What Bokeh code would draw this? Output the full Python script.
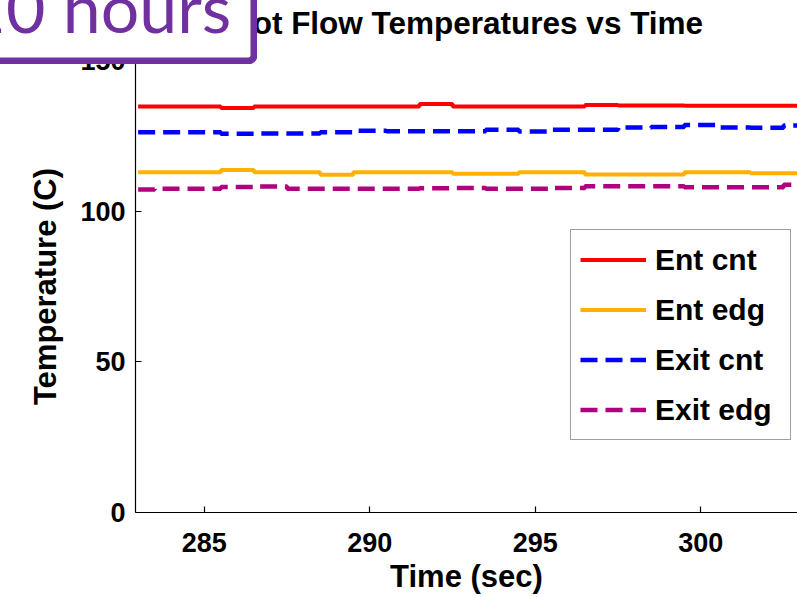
from bokeh.plotting import figure
from bokeh.layouts import column
from bokeh.models import FixedTicker, Legend, LegendItem, Label, Range1d, BoxAnnotation
from bokeh.embed import file_html
from bokeh.resources import INLINE

# ---- data ----
time_s = [283, 284, 285, 286, 287, 288, 289, 290, 291, 292, 293,
          294, 295, 296, 297, 298, 299, 300, 301, 302, 303]
ent_cnt = [134.7, 134.7, 134.7, 134.2, 134.7, 134.7, 134.7, 134.7, 134.7, 135.6, 134.7,
           134.7, 134.7, 134.7, 135.2, 135.1, 135.1, 135.0, 135.0, 135.0, 135.0]
ent_edg = [112.9, 112.9, 112.9, 113.7, 112.9, 112.9, 112.1, 112.9, 112.9, 112.9, 112.4,
           112.4, 112.9, 112.9, 112.2, 112.2, 112.2, 112.9, 112.9, 112.6, 112.6]
exit_cnt = [126.2, 126.2, 126.2, 125.7, 125.8, 125.8, 126.2, 126.7, 126.5, 126.5, 126.5,
            127.0, 126.4, 127.0, 127.0, 127.8, 127.9, 128.6, 127.8, 127.7, 128.4]
exit_edg = [107.2, 107.4, 107.4, 108.0, 108.2, 107.4, 107.4, 107.4, 107.4, 107.6, 107.7,
            107.4, 107.4, 107.7, 108.3, 108.3, 108.3, 107.9, 107.9, 107.9, 108.8]
series_names = ["Ent cnt", "Ent edg", "Exit cnt", "Exit edg"]
x_ticks = [285, 290, 295, 300]
y_ticks = [0, 50, 100, 150]
title_text = "Hot Flow Temperatures vs Time"
note_text = "10 hours"

FONT = "Liberation Sans"
BORDER_L = 135

p = figure(width=797, height=597, output_backend="svg", toolbar_location=None,
           x_range=Range1d(282.92, 302.92), y_range=Range1d(0, 150),
           min_border_left=BORDER_L, min_border_right=0, min_border_top=60,
           min_border_bottom=85)
p.outline_line_color = None
p.background_fill_color = "white"
p.border_fill_color = "white"
p.xgrid.visible = False
p.ygrid.visible = False

for ax in (p.xaxis[0], p.yaxis[0]):
    ax.major_tick_in = 6
    ax.major_tick_out = 0
    ax.minor_tick_line_color = None
    ax.axis_line_color = "black"
    ax.axis_line_width = 1.2
    ax.major_tick_line_color = "black"
    ax.major_tick_line_width = 1.2
    ax.major_label_text_font = FONT
    ax.major_label_text_font_size = "27px"
    ax.major_label_text_font_style = "bold"
    ax.major_label_text_color = "black"
    ax.axis_label_text_font = FONT
    ax.axis_label_text_font_size = "31px"
    ax.axis_label_text_font_style = "bold"
    ax.axis_label_text_color = "black"

p.xaxis.ticker = FixedTicker(ticks=x_ticks)
p.yaxis.ticker = FixedTicker(ticks=y_ticks)
p.xaxis.axis_label = "Time (sec)"
p.yaxis.axis_label = "Temperature (C)"
p.xaxis.major_label_standoff = 20
p.xaxis.axis_label_standoff = 4
p.yaxis.major_label_standoff = 10
p.yaxis.axis_label_standoff = 14

r1 = p.step(time_s, ent_cnt, mode="center", line_color="#FF0000", line_width=4)
r2 = p.step(time_s, ent_edg, mode="center", line_color="#FFB000", line_width=4)
r3 = p.step(time_s, exit_cnt, mode="center", line_color="#0000FF", line_width=4.5,
            line_dash="17 8")
r4 = p.step(time_s, exit_edg, mode="center", line_color="#B0007F", line_width=4.5,
            line_dash="17 8")

legend = Legend(items=[LegendItem(label=n, renderers=[r]) for n, r in
                       zip(series_names, [r1, r2, r3, r4])],
                location=(435, 72), margin=0, padding=9, spacing=9,
                label_height=41, glyph_height=41, glyph_width=66, label_standoff=9,
                label_width=126,
                label_text_font=FONT, label_text_font_size="30px",
                label_text_font_style="bold", label_text_color="black",
                border_line_color="#404040", border_line_width=1.5,
                background_fill_color="white", background_fill_alpha=1.0)
p.add_layout(legend)


def overlay(x0, x1, height, page_top, z):
    """Transparent strip floated over the page; 1 data unit = 1 px,
    x in page pixels, y counted upward from the strip's bottom edge."""
    f = figure(width=BORDER_L + (x1 - x0), height=height, output_backend="svg",
               toolbar_location=None,
               x_range=Range1d(x0, x1), y_range=Range1d(0, height),
               x_axis_location=None, y_axis_location=None,
               min_border_left=0, min_border_right=0, min_border_top=0,
               min_border_bottom=0)
    f.outline_line_color = None
    f.xgrid.visible = False
    f.ygrid.visible = False
    f.background_fill_alpha = 0
    f.border_fill_alpha = 0
    f.styles = {"position": "absolute", "left": "%dpx" % (x0 - BORDER_L),
                "top": "%dpx" % page_top, "z-index": str(z)}
    return f


# title strip (page x 100..762, page y -20..64)
p2 = overlay(100, 762, 84, -20, 10)
title_lbl = Label(x=466, y=42, text=title_text, text_font=FONT, text_font_size="31.5px",
                  text_font_style="bold", text_color="black",
                  text_align="center", text_baseline="middle")
p2.add_layout(title_lbl)

# "10 hours" call-out (page x -40..257, page y -20..64), drawn above the title
p3 = overlay(-40, 257, 84, -20, 11)
box = BoxAnnotation(left=-80, right=253.5, bottom=3.5, top=124,
                    fill_color="white", fill_alpha=1.0,
                    line_color="#7030A0", line_alpha=1.0, line_width=7, border_radius=6)
p3.add_layout(box)
note = Label(x=-34, y=58, text=note_text,
             text_font="Lato", text_font_size="68px", text_color="#7030A0",
             text_align="left", text_baseline="middle")
p3.add_layout(note)

layout = column(p, p2, p3)
layout.styles = {"position": "relative"}

open("out.html", "w").write(file_html(layout, INLINE))
